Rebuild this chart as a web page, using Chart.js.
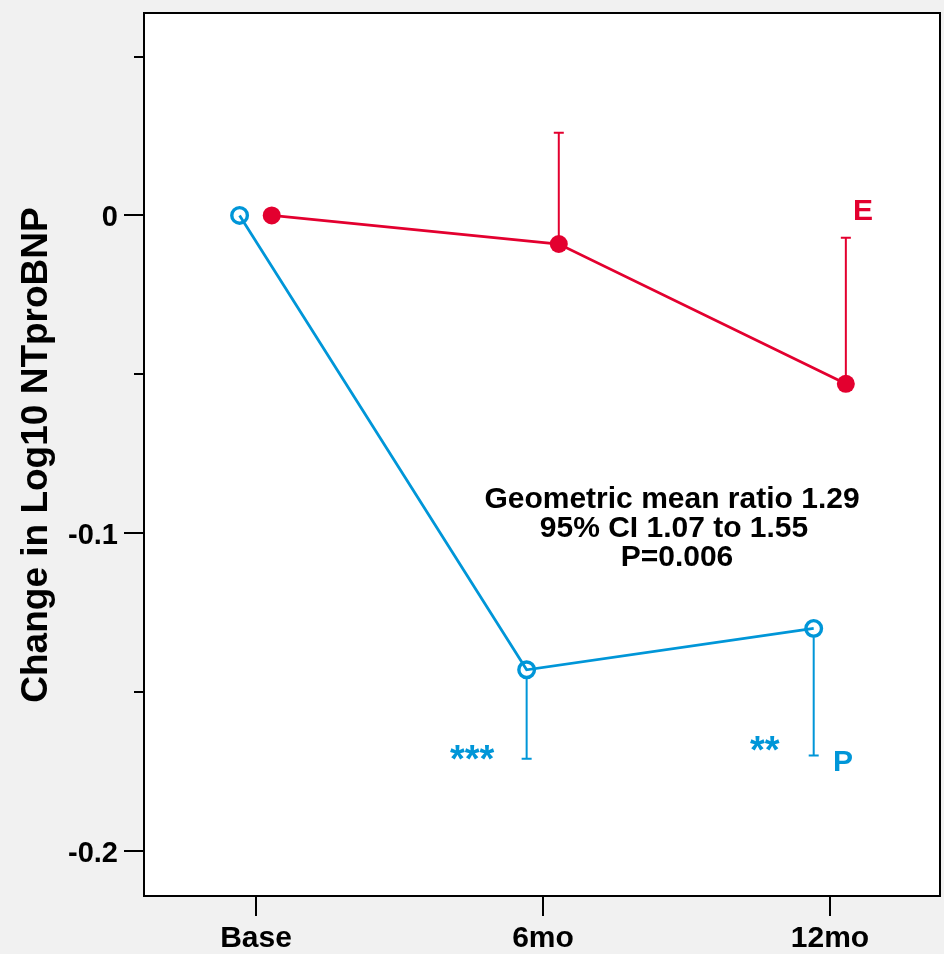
<!DOCTYPE html>
<html>
<head>
<meta charset="utf-8">
<title>NTproBNP change</title>
<script src="https://cdn.jsdelivr.net/npm/chart.js@4/dist/chart.umd.min.js"></script>
<style>
    html, body { margin: 0; padding: 0; background: #f1f1f1; overflow: hidden; }
    #wrap { width: 944px; height: 954px; }
    canvas { display: block; }
</style>
</head>
<body>
<div id="wrap"><canvas id="bnpChart" width="944" height="954"></canvas></div>
<script>
// visits on the x axis (category index 0, 1, 2)
const visits = ["Base", "6mo", "12mo"];

// y ticks, only every 0.1 gets a label
const yTicks = [0.05, 0, -0.05, -0.1, -0.15, -0.2];
const yTickLabels = ["", "0", "", "-0.1", "", "-0.2"];

// group P (open circles), lower error limit
const pMeans = [0, -0.143, -0.130];
const pLower = [null, -0.171, -0.170];

// group E (filled circles), upper error limit
const eMeans = [0, -0.009, -0.053];
const eUpper = [null, 0.026, -0.007];

// small dodge so the two groups don't overlap
const pShift = -0.057;
const eShift = 0.055;

const BLUE = "#0096d8";
const RED = "#e3002f";
const FONT = "'Liberation Sans', Arial, sans-serif";

function toPoints(means, shift) {
    return means.map((v, i) => ({ x: i + shift, y: v }));
}

// error bars, axis frame, ticks and text
const decor = {
    id: "decor",
    beforeDraw(chart) {
        const { ctx, chartArea: a } = chart;
        ctx.save();
        ctx.fillStyle = "#ffffff";
        ctx.fillRect(a.left, a.top, a.right - a.left, a.bottom - a.top);
        ctx.restore();
    },
    beforeDatasetsDraw(chart) {
        const { ctx, scales: { x, y } } = chart;
        ctx.save();
        ctx.lineWidth = 2;

        // P: bars go down from the bottom of the open circle
        ctx.strokeStyle = BLUE;
        pLower.forEach((lo, i) => {
            if (lo === null) return;
            const px = x.getPixelForValue(i + pShift);
            const y0 = y.getPixelForValue(pMeans[i]) + 9;
            const y1 = y.getPixelForValue(lo);
            ctx.beginPath();
            ctx.moveTo(px, y0); ctx.lineTo(px, y1);
            ctx.moveTo(px - 5, y1); ctx.lineTo(px + 5, y1);
            ctx.stroke();
        });

        // E: bars go up from the dot
        ctx.strokeStyle = RED;
        eUpper.forEach((hi, i) => {
            if (hi === null) return;
            const px = x.getPixelForValue(i + eShift);
            const y0 = y.getPixelForValue(eMeans[i]);
            const y1 = y.getPixelForValue(hi);
            ctx.beginPath();
            ctx.moveTo(px, y0); ctx.lineTo(px, y1);
            ctx.moveTo(px - 5, y1); ctx.lineTo(px + 5, y1);
            ctx.stroke();
        });
        ctx.restore();
    },
    afterDraw(chart) {
        const { ctx, chartArea: a, scales: { x, y } } = chart;
        ctx.save();

        // frame
        ctx.strokeStyle = "#000";
        ctx.lineWidth = 2;
        ctx.strokeRect(a.left, a.top, a.right - a.left, a.bottom - a.top);

        // y ticks + labels
        ctx.font = "bold 29px " + FONT;
        ctx.fillStyle = "#000";
        ctx.textAlign = "right";
        ctx.textBaseline = "alphabetic";
        yTicks.forEach((v, i) => {
            const py = Math.round(y.getPixelForValue(v));
            const len = yTickLabels[i] ? 20 : 10;
            ctx.beginPath();
            ctx.moveTo(a.left - len, py); ctx.lineTo(a.left, py);
            ctx.stroke();
            if (yTickLabels[i]) ctx.fillText(yTickLabels[i], a.left - 26, py + 10.5);
        });

        // x ticks + labels
        ctx.font = "bold 30px " + FONT;
        ctx.textAlign = "center";
        visits.forEach((lab, i) => {
            const px = Math.round(x.getPixelForValue(i));
            ctx.beginPath();
            ctx.moveTo(px, a.bottom); ctx.lineTo(px, a.bottom + 20);
            ctx.stroke();
            ctx.fillText(lab, px, 947);
        });

        // y axis title
        ctx.save();
        ctx.translate(47, 455);
        ctx.rotate(-Math.PI / 2);
        ctx.font = "bold 37px " + FONT;
        ctx.fillText("Change in Log10 NTproBNP", 0, 0);
        ctx.restore();

        // comparison summary
        ctx.font = "bold 30px " + FONT;
        ctx.fillText("Geometric mean ratio 1.29", 672, 508);
        ctx.fillText("95% CI 1.07 to 1.55", 674, 537);
        ctx.fillText("P=0.006", 677, 566);

        // group labels and significance stars
        ctx.textAlign = "left";
        ctx.fillStyle = RED;
        ctx.font = "bold 30px " + FONT;
        ctx.fillText("E", 853, 220);
        ctx.fillStyle = BLUE;
        ctx.fillText("P", 833, 771);
        ctx.font = "bold 38px " + FONT;
        ctx.fillText("***", 450, 772);
        ctx.fillText("**", 750, 763);

        ctx.restore();
    }
};

new Chart(document.getElementById("bnpChart"), {
    type: "scatter",
    data: {
        datasets: [
            {
                label: "P",
                data: toPoints(pMeans, pShift),
                showLine: true,
                borderColor: BLUE,
                borderWidth: 2.8,
                pointRadius: 7.8,
                pointBorderWidth: 3.4,
                pointBorderColor: BLUE,
                pointBackgroundColor: "rgba(0,0,0,0)",
                tension: 0
            },
            {
                label: "E",
                data: toPoints(eMeans, eShift),
                showLine: true,
                borderColor: RED,
                borderWidth: 2.8,
                pointRadius: 9,
                pointBorderWidth: 0,
                pointBackgroundColor: RED,
                tension: 0
            }
        ]
    },
    options: {
        responsive: false,
        animation: false,
        events: [],
        layout: { autoPadding: false, padding: { left: 0, top: 13, right: 4, bottom: 0 } },
        plugins: {
            legend: { display: false },
            tooltip: { enabled: false }
        },
        scales: {
            x: {
                type: "linear",
                min: -0.39,
                max: 2.383,
                grid: { display: false, drawTicks: false },
                border: { display: false },
                ticks: { display: false },
                afterFit(scale) { scale.height = 58; }
            },
            y: {
                type: "linear",
                min: -0.2142,
                max: 0.0637,
                grid: { display: false, drawTicks: false },
                border: { display: false },
                ticks: { display: false },
                afterFit(scale) { scale.width = 144; }
            }
        }
    },
    plugins: [decor]
});
</script>
</body>
</html>
